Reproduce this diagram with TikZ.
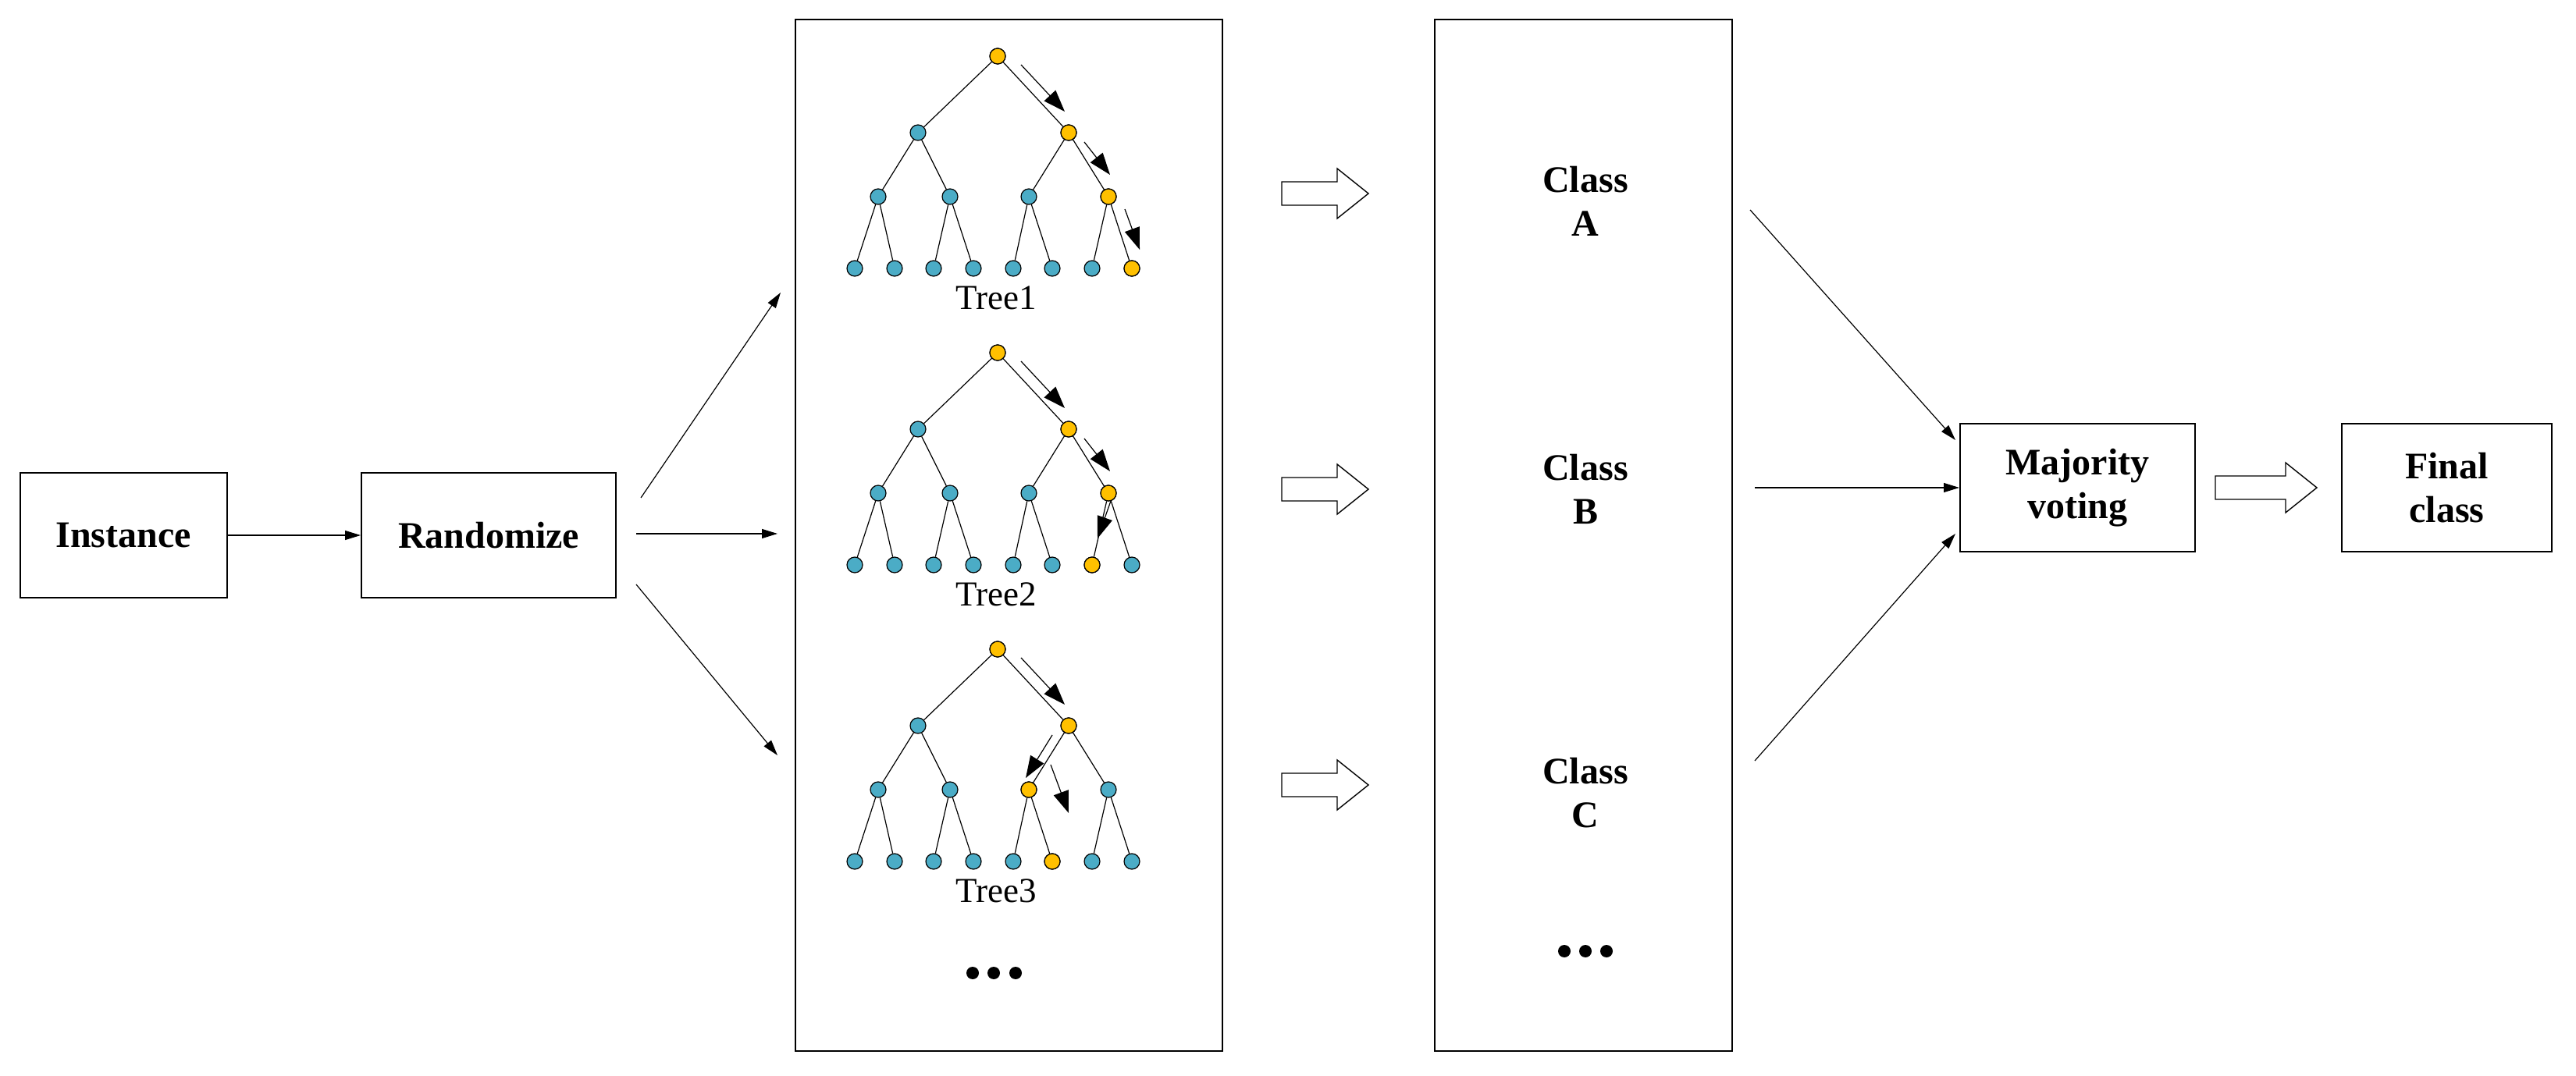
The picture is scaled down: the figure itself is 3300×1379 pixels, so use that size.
\documentclass[tikz,border=0pt]{standalone}
\usepackage{fontspec}
\setmainfont{Liberation Serif}
\usetikzlibrary{arrows.meta}
\definecolor{yel}{HTML}{FFC000}
\definecolor{teal2}{HTML}{4BACC6}
\tikzset{
 box/.style={draw,line width=1pt,inner sep=0,font=\fontsize{24}{28}\selectfont\bfseries,align=center},
 tn/.style={circle,draw,line width=0.6pt,fill=teal2,minimum size=10pt,inner sep=0},
 yn/.style={circle,draw,line width=0.6pt,fill=yel,minimum size=10pt,inner sep=0},
 ed/.style={line width=0.6pt},
 con/.style={line width=0.6pt,-{Triangle[length=10pt,width=6pt]}},
 big/.style={line width=0.6pt,-{Triangle[length=14pt,width=10pt]}},
 hol/.style={draw,line width=0.7pt,fill=white},
}
\newcommand\mytree[4]{%
 \begin{scope}[shift={(0,#2)}]
 \node[tn] (#1r) at (1278,72) {};
 \node[tn] (#1a) at (1176,170) {};
 \node[tn] (#1b) at (1369,170) {};
 \foreach \x [count=\i] in {1125,1217,1318,1420} \node[tn] (#1c\i) at (\x,252) {};
 \foreach \x [count=\i] in {1095,1146,1196,1247,1298,1348,1399,1450} \node[tn] (#1d\i) at (\x,344) {};
 \draw[ed] (#1r)--(#1a) (#1r)--(#1b) (#1a)--(#1c1) (#1a)--(#1c2) (#1b)--(#1c3) (#1b)--(#1c4)
   (#1c1)--(#1d1) (#1c1)--(#1d2) (#1c2)--(#1d3) (#1c2)--(#1d4)
   (#1c3)--(#1d5) (#1c3)--(#1d6) (#1c4)--(#1d7) (#1c4)--(#1d8);
 \foreach \n in {#3} \node[yn] at (#1\n) {};
 \node[font=\fontsize{22.5}{26}\selectfont] (#1lab) at (1276,382) {#4};
 \end{scope}}
\begin{document}
\begin{tikzpicture}[x=0.5pt,y=-0.5pt]
\useasboundingbox (0,0) rectangle (3300,1379);
\node[box,minimum width=132.5pt,minimum height=80pt] (inst) at (158,686) {Instance};
\node[box,minimum width=163pt,minimum height=80pt] (rand) at (626,686) {Randomize};
\draw[line width=1pt] (1019,25) rectangle (1566,1347);
\draw[line width=1pt] (1838,25) rectangle (2219,1347);
\node[box,minimum width=150.5pt,minimum height=82pt] (maj) at (2661.5,625) {Majority\\voting};
\node[box,minimum width=134.5pt,minimum height=82pt] (fin) at (3134.5,625) {Final\\class};

\mytree{A}{0}{r,b,c4,d8}{Tree1}
\mytree{B}{380}{r,b,c4,d7}{Tree2}
\mytree{C}{760}{r,b,c3,d6}{Tree3}
\foreach \x in {1246,1273,1301} \fill (\x,1247) circle (4pt);

% path arrows
\draw[big] (1308,83)--(1364,143);
\draw[big] (1389,182)--(1422,224);
\draw[big] (1441,268)--(1460,320);
\draw[big] (1308,463)--(1364,523);
\draw[big] (1389,562)--(1422,604);
\draw[big] (1423,642)--(1406,690);
\draw[big] (1308,843)--(1364,903);
\draw[big] (1348,942)--(1314,997);
\draw[big] (1346,980)--(1369,1042);

\node[box,draw=none,inner sep=2pt] (ca) at (2031,258) {Class\\A};
\node[box,draw=none,inner sep=2pt] (cb) at (2031,627) {Class\\B};
\node[box,draw=none,inner sep=2pt] (cc) at (2031,1016) {Class\\C};
\foreach \x in {2004,2031,2058} \fill (\x,1219) circle (4pt);

\coordinate (t1) at (1000,375); \coordinate (t2) at (996,684); \coordinate (t3) at (996,968);
\coordinate (r1) at (821,638); \coordinate (r2) at (815,684); \coordinate (r3) at (815,749);
\draw[con] (inst)--(rand);
\draw[con] (r1)--(t1); \draw[con] (r2)--(t2); \draw[con] (r3)--(t3);
\coordinate (k1) at (2242,269); \coordinate (k2) at (2248,625); \coordinate (k3) at (2248,975);
\draw[con] (k1)--(2505,564);
\draw[con] (k2)--(maj.west);
\draw[con] (k3)--(2505,684);

\foreach \y in {248,627,1006}
 \draw[hol] (1642,\y-15)--(1713,\y-15)--(1713,\y-32)--(1753,\y)--(1713,\y+32)--(1713,\y+15)--(1642,\y+15)--cycle;
\draw[hol] (2838,610)--(2928,610)--(2928,593)--(2968,625)--(2928,657)--(2928,640)--(2838,640)--cycle;
\end{tikzpicture}
\end{document}
